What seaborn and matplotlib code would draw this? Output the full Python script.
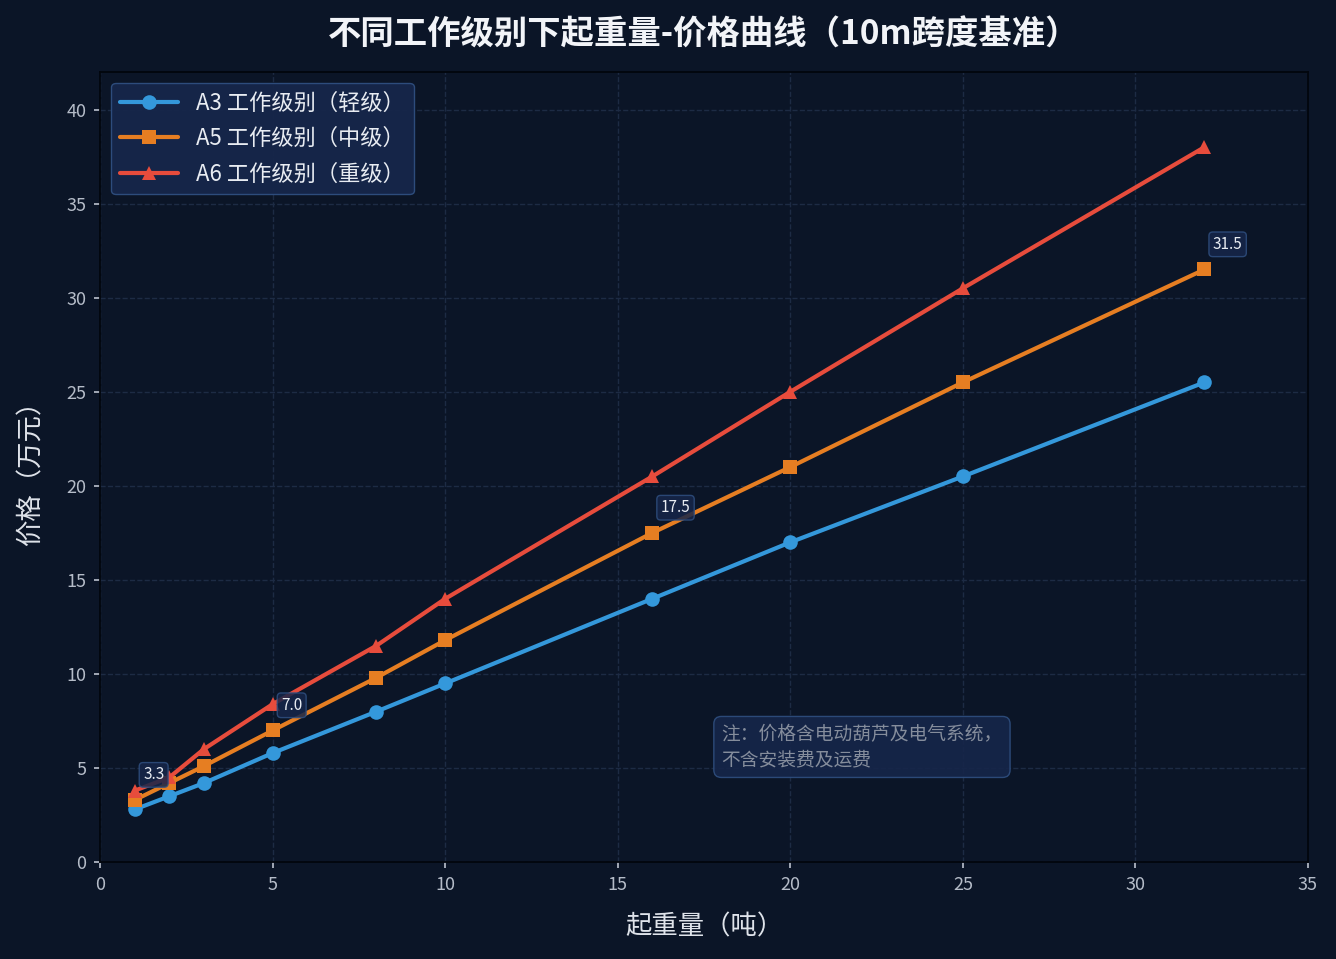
import pandas as pd
import seaborn as sns
import matplotlib.pyplot as plt

# data
capacity = [1, 2, 3, 5, 8, 10, 16, 20, 25, 32]
price_a3 = [2.8, 3.5, 4.2, 5.8, 8.0, 9.5, 14.0, 17.0, 20.5, 25.5]
price_a5 = [3.3, 4.2, 5.1, 7.0, 9.8, 11.8, 17.5, 21.0, 25.5, 31.5]
price_a6 = [3.8, 4.5, 6.0, 8.4, 11.5, 14.0, 20.5, 25.0, 30.5, 38.0]
series_names = ["A3 工作级别（轻级）", "A5 工作级别（中级）", "A6 工作级别（重级）"]
label_idx = [0, 3, 6, 9]  # A5 points that get a value box

bg = "#0b1527"
box_face = "#16264a"
box_edge = "#2f4f80"

sns.set_theme(style="dark")
plt.rcParams["font.family"] = ["Noto Sans CJK SC", "DejaVu Sans"]
plt.rcParams["axes.unicode_minus"] = False

fig, ax = plt.subplots(figsize=(13.36, 9.59), dpi=100)
fig.patch.set_facecolor(bg)
ax.set_facecolor(bg)
plt.subplots_adjust(left=0.075, right=0.979, top=0.925, bottom=0.101)

styles = [("#3498db", "o"), ("#e67e22", "s"), ("#e74c3c", "^")]
for name, vals, (col, mk) in zip(series_names, [price_a3, price_a5, price_a6], styles):
    df = pd.DataFrame({"x": capacity, "y": vals})
    sns.lineplot(data=df, x="x", y="y", ax=ax, color=col, marker=mk,
                 markersize=10.5, markeredgewidth=0, linewidth=3, label=name)

# value boxes on A5 series
for i in label_idx:
    ax.annotate(f"{price_a5[i]:.1f}", (capacity[i], price_a5[i]),
                xytext=(6, 12), textcoords="offset points", ha="left", va="bottom",
                fontsize=11, color="#e8ecf2",
                bbox=dict(boxstyle="round,pad=0.25", fc=box_face, ec=box_edge, alpha=0.85))

ax.text(18.0, 4.9, "注：价格含电动葫芦及电气系统，\n不含安装费及运费", fontsize=13.5,
        color="#858d9c", ha="left", va="bottom", linespacing=1.25,
        bbox=dict(boxstyle="round,pad=0.4", fc=box_face, ec=box_edge, alpha=0.9))

ax.set_xlim(0, 35)
ax.set_ylim(0, 42)
ax.set_xticks(range(0, 36, 5))
ax.set_yticks(range(0, 41, 5))
ax.grid(True, color="#1d2b44", linestyle="--", linewidth=1)
ax.tick_params(colors="#b5bcc8", labelsize=13, length=4, pad=6, bottom=True, left=True)
for s in ax.spines.values():
    s.set_color("#02060d")
    s.set_linewidth(1.3)

ax.set_xlabel("起重量（吨）", fontsize=19, color="#dfe3ea", labelpad=14)
ax.set_ylabel("价格（万元）", fontsize=19, color="#dfe3ea", labelpad=16)
ax.set_title("不同工作级别下起重量-价格曲线（10m跨度基准）", fontsize=24,
             fontweight="bold", color="#f2f4f8", pad=20)

leg = ax.legend(loc="upper left", fontsize=16, facecolor=box_face,
                edgecolor=box_edge, framealpha=0.95, labelcolor="#e8ecf2",
                handlelength=2.6, labelspacing=0.55)

plt.savefig("out.png", dpi=100, facecolor=bg)
